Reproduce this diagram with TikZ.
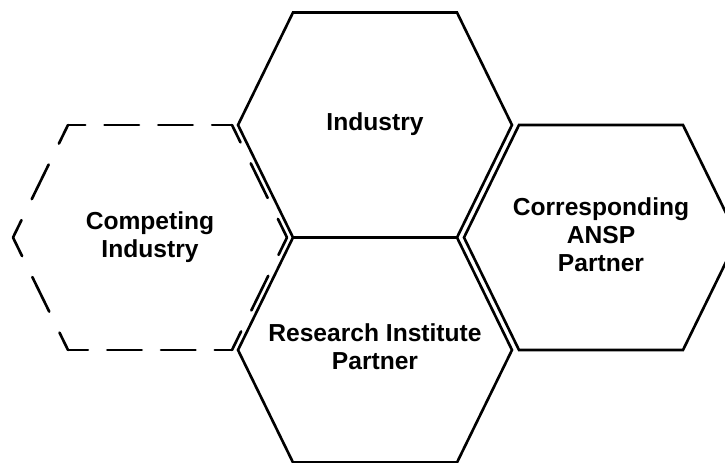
\documentclass[tikz,border=0pt]{standalone}
\usepackage{fontspec}
\setmainfont{Liberation Sans}
\usepackage{xcolor}
\definecolor{hexink}{RGB}{0,0,0}
\usepackage{tikz}
\usetikzlibrary{positioning}

\tikzset{
  hexline/.style={line width=1.5pt, hexink, line join=miter},
  flatdash/.style={hexline, line cap=round, dash pattern=on 19.6pt off 11pt, dash phase=9.8pt},
  slantdash/.style={hexline, line cap=round, dash pattern=on 21.9pt off 13.3pt, dash phase=10.9pt},
  hexlabel/.style={font=\fontsize{14}{16}\selectfont\bfseries, align=center, text=hexink}
}

\begin{document}
\begin{tikzpicture}[x=0.02cm, y=-0.02cm]
  \useasboundingbox (0,0) rectangle (725,463);
  \clip (0,0) rectangle (725,463);

  % --- Centre column: Industry / Research Institute ---
  \draw[hexline] (238,125) -- (293,12.5) -- (457,12.5) -- (512,125) -- (457,237.5) -- (293,237.5) -- cycle;
  \node[hexlabel] (ind) at (375,124) {Industry};

  \draw[hexline] (238,350) -- (293,237.5) -- (457,237.5) -- (512,350) -- (457,462.5) -- (293,462.5) -- cycle;
  \node[hexlabel] (res) at (375,347) {Research Institute\\Partner};

  % --- Right: ANSP partner ---
  \draw[hexline] (464,237.5) -- (519,125) -- (683,125) -- (738,237.5) -- (683,350) -- (519,350) -- cycle;
  \node[hexlabel] (ansp) at (601,235) {Corresponding\\ANSP\\Partner};

  % --- Left: competing industry (dashed) ---
  \draw[flatdash]  (68,125) -- (232,125);
  \draw[slantdash] (232,125) -- (287,237.5);
  \draw[slantdash] (287,237.5) -- (232,350);
  \draw[flatdash]  (232,350) -- (68,350);
  \draw[slantdash] (68,350) -- (13,237.5);
  \draw[slantdash] (13,237.5) -- (68,125);
  \node[hexlabel] (comp) at (150,237) {Competing\\Industry};
\end{tikzpicture}
\end{document}
